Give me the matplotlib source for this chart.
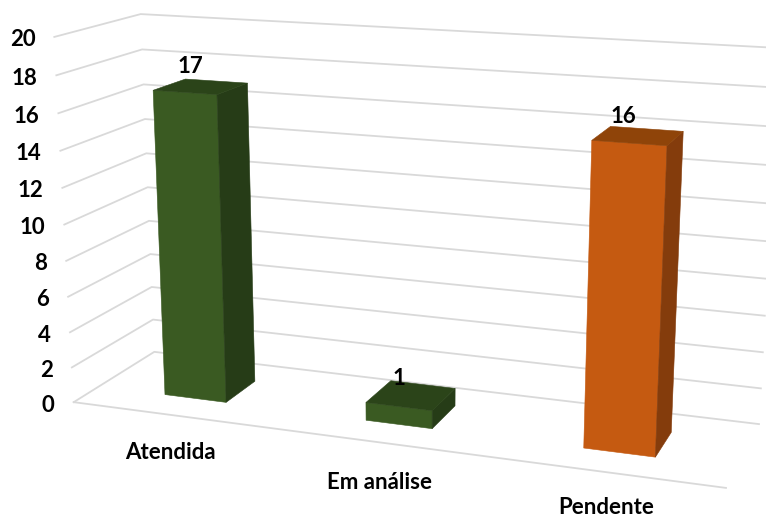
import numpy as np
from matplotlib import pyplot as plt

categories = ['Atendida', 'Em análise', 'Pendente']
values = [17, 1, 16]
ticks = list(range(0, 21, 2))

front_col = ['#3A5A22', '#3A5A22', '#C55A11']
side_col = ['#263C17', '#263C17', '#843C0C']
top_col = ['#2B4419', '#2B4419', '#8F4409']

# where the box corners sit in the picture: (u, depth, value) -> pixel
anchors = [((0, 0, 0), (74, 402)), ((0, 1, 0), (154, 352)), ((1, 0, 0), (726, 488)),
           ((1, 1, 0), (759, 424)), ((0, 0, 20), (54, 37)), ((0, 1, 20), (141, 14)),
           ((1, 1, 20), (779, 48))]

rows = []
for (u, d, v), (px, py) in anchors:
    rows.append([u, d, v, 1, 0, 0, 0, 0, -px * u, -px * d, -px * v, -px])
    rows.append([0, 0, 0, 0, u, d, v, 1, -py * u, -py * d, -py * v, -py])
P = np.linalg.svd(np.array(rows, dtype=float))[2][-1].reshape(3, 4)


def project(u, d, v):
    q = P @ np.array([u, d, v, 1.0])
    return q[0] / q[2], q[1] / q[2]


def face(ax, corners, color):
    pts = [project(*c) for c in corners]
    ax.fill([p[0] for p in pts], [p[1] for p in pts], color=color, linewidth=0.4, zorder=3)


plt.rcParams['font.family'] = ['Lato', 'DejaVu Sans']
fig = plt.figure(figsize=[7.66, 5.17], dpi=100)
ax = fig.add_axes([0, 0, 1, 1])
ax.set_xlim(0, 766)
ax.set_ylim(517, 0)
ax.axis('off')

for t in ticks:
    a, b, c = project(0, 0, t), project(0, 1, t), project(1, 1, t)
    ax.plot([a[0], b[0], c[0]], [a[1], b[1], c[1]], color='#D9D9D9', linewidth=1.3)
    ax.text(a[0] - 19, a[1] + 3, str(t), ha='right', va='center', fontsize=16, fontweight='bold', color='#000000')
a, b = project(0, 0, 0), project(1, 0, 0)
ax.plot([a[0], b[0]], [a[1], b[1]], color='#D9D9D9', linewidth=1.3)

half = 0.052
d0, d1 = 0.30, 0.70
label_shift = [(-10, -20), (-12, -17), (-15, -19)]
cat_shift = [(-1, 37), (0, 40), (0, 35)]
for i, val in enumerate(values):
    mid = (i + 0.5) / 3
    u0, u1 = mid - half, mid + half
    face(ax, [(u0, d0, 0), (u1, d0, 0), (u1, d0, val), (u0, d0, val)], front_col[i])
    face(ax, [(u1, d0, 0), (u1, d1, 0), (u1, d1, val), (u1, d0, val)], side_col[i])
    face(ax, [(u0, d0, val), (u1, d0, val), (u1, d1, val), (u0, d1, val)], top_col[i])
    tx, ty = project(mid, 0.5, val)
    ax.text(tx + label_shift[i][0], ty + label_shift[i][1], str(val), ha='center', va='center',
            fontsize=16, fontweight='bold', color='#000000', zorder=4)
    bx, by = project(mid, 0, 0)
    ax.text(bx + cat_shift[i][0], by + cat_shift[i][1], categories[i], ha='center', va='center',
            fontsize=16, fontweight='bold', color='#000000')

fig.savefig('out.png', dpi=100)
